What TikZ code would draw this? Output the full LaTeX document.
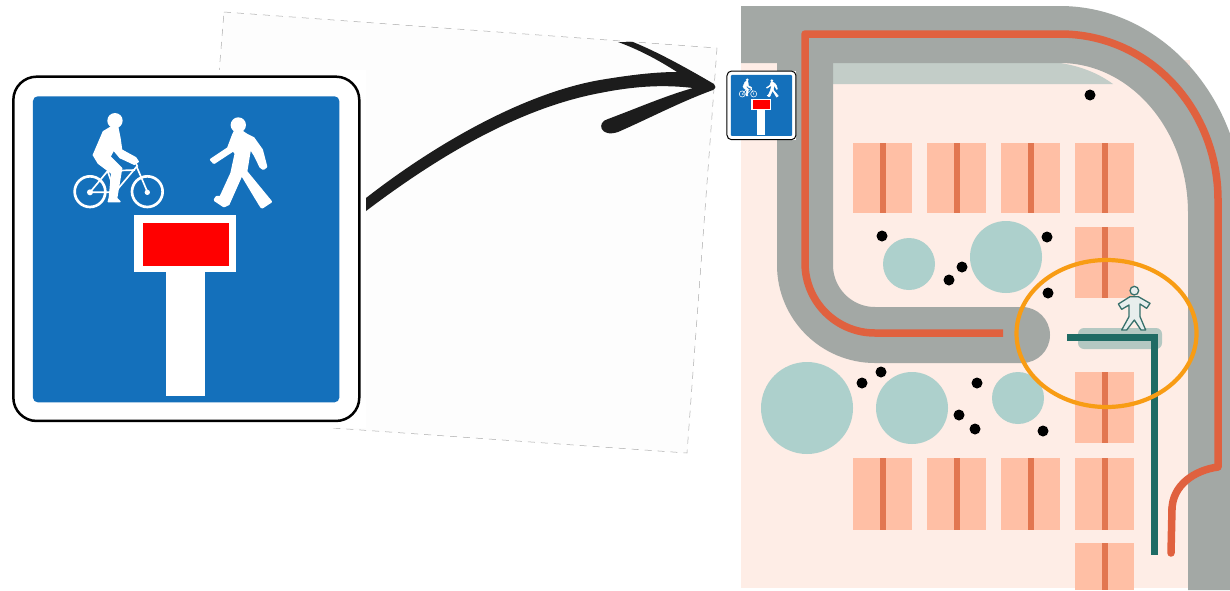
\documentclass[tikz,border=0pt]{standalone}
\definecolor{signblue}{HTML}{1470BB}
\definecolor{signred}{HTML}{FF0000}
\definecolor{mappink}{HTML}{FEEDE6}
\definecolor{roadgray}{HTML}{A3A8A5}
\definecolor{palegray}{HTML}{C3CDC8}
\definecolor{cyclered}{HTML}{E0613F}
\definecolor{bayfill}{HTML}{FFBFA5}
\definecolor{baystripe}{HTML}{E27650}
\definecolor{treefill}{HTML}{ADD0CC}
\definecolor{walkgreen}{HTML}{1F6B64}
\definecolor{walkshade}{HTML}{B4C8C2}
\definecolor{ringorange}{HTML}{F89C14}
\definecolor{paper}{HTML}{FDFDFD}
\definecolor{inkblack}{HTML}{1C1C1C}
\tikzset{
  bay/.style={fill=bayfill,draw=none},
  baymark/.style={draw=baystripe,line width=5.5pt},
  tree/.style={fill=treefill,draw=none},
  bollard/.style={fill=black,draw=none},
  cyclepath/.style={draw=cyclered,line width=7.5pt,line join=round},
}
% #1,#2 origin, #3 scale, #4 border width
\newcommand{\roadsign}[4]{%
\begin{scope}[shift={(#1,#2)},scale=#3]
  \fill[white] (34,44) rectangle (1084,1089);
  \draw[black,fill=white,line width=#4,rounded corners=#3*70pt] (40,50) rectangle (1078,1083);
  \fill[signblue,rounded corners=#3*14pt] (99,109) rectangle (1018,1027);
  \fill[white] (403,465) rectangle (709,637);
  \fill[white] (498,637) rectangle (616,1008);
  \fill[signred] (430,490) rectangle (686,618);
  % cyclist
  \begin{scope}[shift={(195,135)}]
    \fill[white] (150,47) circle [radius=23];
    \filldraw[white,line width=#3*4pt,line join=round] (140,65) -- (158,65) -- (165,100) -- (170,135) -- (212,158) -- (220,170) -- (208,178) -- (165,158)
       -- (146,135) -- (135,155) -- (170,190) -- (155,280) -- (165,290) -- (130,290) -- (133,278) -- (140,205) -- (100,175) -- (85,150) -- (115,80) -- cycle;
    \draw[white,line width=#3*8pt] (75,260) circle [radius=46] (247,260) circle [radius=46];
    \draw[white,line width=#3*5pt] (75,262) -- (128,198) -- (210,195) (75,262) -- (150,262) -- (215,185) -- (247,260)
       (128,198) -- (150,262) (205,160) -- (218,185);
    \fill[white] (75,262) circle [radius=9] (247,262) circle [radius=8];
  \end{scope}
  % walker
  \begin{scope}[shift={(600,150)}]
    \fill[white] (115,45) circle [radius=23];
    \filldraw[white,line width=#3*8pt,line join=round] (105,65) -- (125,65) -- (140,75) -- (160,85) -- (185,120) -- (198,170) -- (190,176) -- (182,170)
       -- (165,135) -- (150,112) -- (138,185) -- (212,275) -- (186,292) -- (178,280) -- (125,192) -- (85,282) -- (72,288) -- (45,270) -- (50,262) -- (62,262)
       -- (95,190) -- (108,130) -- (100,120) -- (42,158) -- (34,149) -- (85,115) -- (100,75) -- cycle;
  \end{scope}
\end{scope}}
\begin{document}
\begin{tikzpicture}[x=1pt,y=-1pt]
\useasboundingbox (0,0) rectangle (1230,590);
\fill[white] (0,0) rectangle (1230,590);
% sheet behind the arrow
\draw[fill=paper,draw=gray!65,line width=.5pt,dash pattern=on 7pt off 6pt]
  (224,12) -- (717,48) -- (687,453) -- (191,418) -- cycle;
\fill[white] (0,70) rectangle (366,428);
% arrow
\fill[inkblack] (366,198) .. controls (430,148) and (520,94) .. (600,80)
  .. controls (630,75) and (655,72) .. (677,72) .. controls (660,61) and (640,50) .. (618,42)
  -- (633,42) .. controls (660,53) and (690,70) .. (714,84) .. controls (716,86) and (716,88) .. (713,90)
  .. controls (680,102) and (650,118) .. (618,132) .. controls (600,138) and (596,122) .. (608,119)
  .. controls (640,107) and (665,96) .. (693,88) .. controls (660,84) and (630,87) .. (600,93)
  .. controls (520,108) and (440,155) .. (366,211) -- cycle;
% map ground
\fill[mappink] (741,60) rectangle (1190,588);
% pale verge
\fill[palegray] (833,63) -- (1060,63) .. controls (1080,66) and (1098,73) .. (1113,84) -- (833,84) -- cycle;
% road
\fill[roadgray] (741,6) -- (1060,6) arc[start angle=-90,end angle=0,x radius=184,y radius=207]
  -- (1244,590) -- (1188,590) -- (1188,213) arc[start angle=0,end angle=-90,x radius=128,y radius=150]
  -- (833,63) -- (741,63) -- cycle;
\draw[roadgray,line width=56pt] (805,40) -- (805,265) arc[start angle=180,end angle=90,radius=70] -- (1022,335);
\fill[roadgray] (1022,307) arc[start angle=-90,end angle=90,radius=28] -- cycle;
% cycle path
\draw[cyclepath] (1003,333) -- (875,333) arc[start angle=90,end angle=180,radius=70] -- (805,34)
  -- (1060,34) .. controls (1150,34) and (1218,110) .. (1218,200) -- (1218,467)
  .. controls (1195,470) and (1172,485) .. (1172,510);
\draw[cyclepath,line cap=round] (1172,508) -- (1171,553);
% parking bays
\foreach \xa/\xm/\xb in {853/883/911.5,927/957/985.5,1001/1031/1059.5,1075/1105/1134}{
  \fill[bay] (\xa,143) rectangle (\xb,213);
  \draw[baymark] (\xm,143) -- (\xm,213);
  \fill[bay] (\xa,458) rectangle (\xb,530);
  \draw[baymark] (\xm,458) -- (\xm,530);
}
\foreach \ya/\yb in {227/298,372/443,543/590}{
  \fill[bay] (1075,\ya) rectangle (1134,\yb);
  \draw[baymark] (1105,\ya) -- (1105,\yb);
}
% trees
\fill[tree] (909,264) circle [radius=26];
\fill[tree] (1006,257) circle [radius=36];
\fill[tree] (807,408) circle [radius=46];
\fill[tree] (912,408) circle [radius=36];
\fill[tree] (1018,398) circle [radius=26];
% bollards
\foreach \px/\py in {1090/95,882/236,1047/237,962/267,949/280,1048/293,881/372,862/383,977/383,959/415,975/429,1043/431}{
  \fill[bollard] (\px,\py) circle [radius=5.5];
}
% footpath
\fill[walkshade,rounded corners=6pt] (1078,328) rectangle (1162,349);
\draw[walkgreen,line width=7pt,line join=miter] (1067,337.5) -- (1154.5,337.5) -- (1154.5,555);
% walker on the map
\begin{scope}[shift={(1105,280)},scale=1/3]
  \draw[walkgreen!75!gray,fill=white!70!walkshade,line width=1.3pt] (88,32) circle [radius=13];
  \draw[walkgreen!75!gray,fill=white!70!walkshade,line width=1.3pt,line join=round]
    (75,50) -- (100,50) -- (135,70) -- (125,85) -- (105,72) -- (105,110) -- (122,150) -- (108,150) -- (88,120)
    -- (65,150) -- (50,150) -- (72,110) -- (72,75) -- (50,88) -- (40,72) -- cycle;
\end{scope}
% ring
\draw[ringorange,line width=4.2pt] (1106.5,333.5) ellipse [x radius=90,y radius=73.5];
% signs
\roadsign{0}{60}{0.3333}{2.5pt}
\roadsign{724.3}{67.7}{0.0665}{1pt}
\end{tikzpicture}
\end{document}
